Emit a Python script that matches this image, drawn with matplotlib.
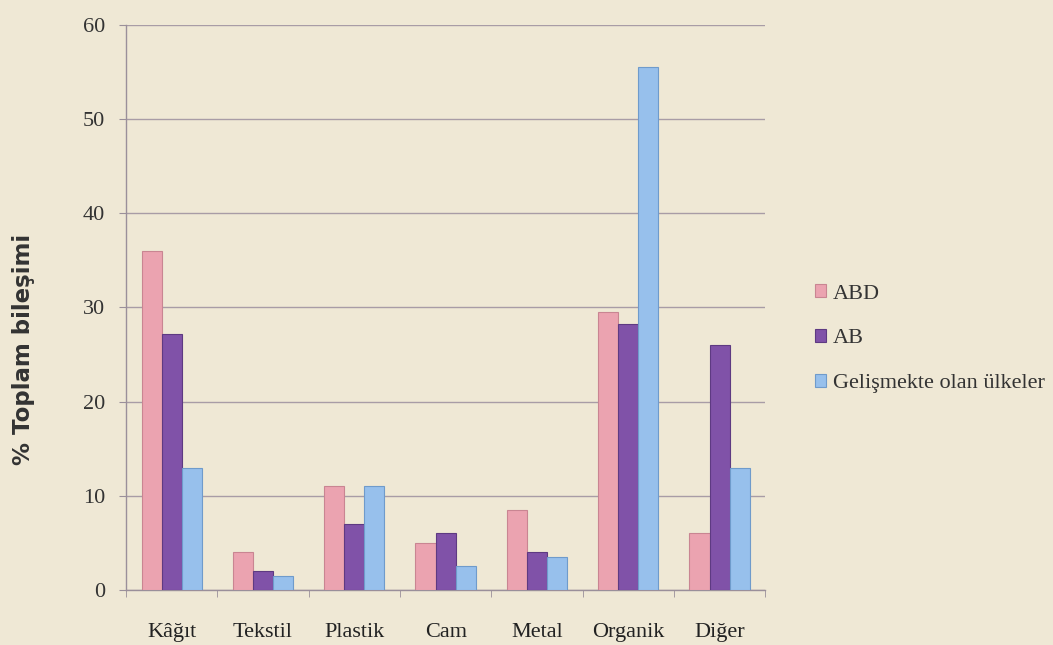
import matplotlib
matplotlib.use("Agg")
import matplotlib.pyplot as plt
import numpy as np

categories = ["Kâğıt", "Tekstil", "Plastik", "Cam", "Metal", "Organik", "Diğer"]
series_names = ["ABD", "AB", "Gelişmekte olan ülkeler"]
abd = [36, 4, 11, 5, 8.5, 29.5, 6]
ab = [27.2, 2, 7, 6, 4, 28.2, 26]
gelismekte = [13, 1.5, 11, 2.5, 3.5, 55.5, 13]
yticks = [0, 10, 20, 30, 40, 50, 60]

colors = ["#EBA3B0", "#8052A8", "#97C0EC"]
edges = ["#C98592", "#5E3A82", "#6F9BCB"]
bg = "#EFE8D5"

fig = plt.figure(figsize=(10.53, 6.45), dpi=100, facecolor=bg)
ax = fig.add_axes([0.1197, 0.0853, 0.607, 0.876], facecolor=bg)

x = np.arange(len(categories))
w = 0.22
for i, (vals, name) in enumerate(zip([abd, ab, gelismekte], series_names)):
    ax.bar(x + (i - 1) * w, vals, width=w, color=colors[i], edgecolor=edges[i],
           linewidth=0.8, label=name, zorder=3)

ax.set_xlim(-0.5, len(categories) - 0.5)
ax.set_ylim(0, 60)
ax.set_yticks(yticks)
ax.set_yticklabels([str(t) for t in yticks], family="Liberation Serif", fontsize=16, color="#333333")
ax.set_xticks(x)
ax.set_xticklabels(categories, family="Liberation Serif", fontsize=16, color="#222222")
ax.set_xticks(np.arange(-0.5, len(categories), 1), minor=True)
ax.tick_params(axis="x", which="major", length=0, pad=24)
ax.tick_params(axis="x", which="minor", length=5, color="#9A8F9A", direction="out")
ax.tick_params(axis="y", length=5, color="#9A8F9A", direction="out", pad=10)
ax.yaxis.grid(True, color="#A89CA6", linewidth=1.0, zorder=0)
for s in ["top", "right"]:
    ax.spines[s].set_visible(False)
for s in ["left", "bottom"]:
    ax.spines[s].set_color("#9A8F9A")
    ax.spines[s].set_linewidth(1.0)

ax.set_ylabel("% Toplam bileşimi", family="DejaVu Sans", fontsize=16.5, fontweight="bold",
              color="#333333")
ax.yaxis.set_label_coords(-0.142, 0.425)

handles, labels = ax.get_legend_handles_labels()
leg = fig.legend(handles, labels, loc="upper left", bbox_to_anchor=(0.755, 0.59),
                 frameon=False, prop={"family": "Liberation Serif", "size": 16},
                 handlelength=0.5, handleheight=0.5, handletextpad=0.3, labelspacing=1.15)
for t in leg.get_texts():
    t.set_color("#333333")

fig.savefig("out.png", dpi=100, facecolor=bg)
